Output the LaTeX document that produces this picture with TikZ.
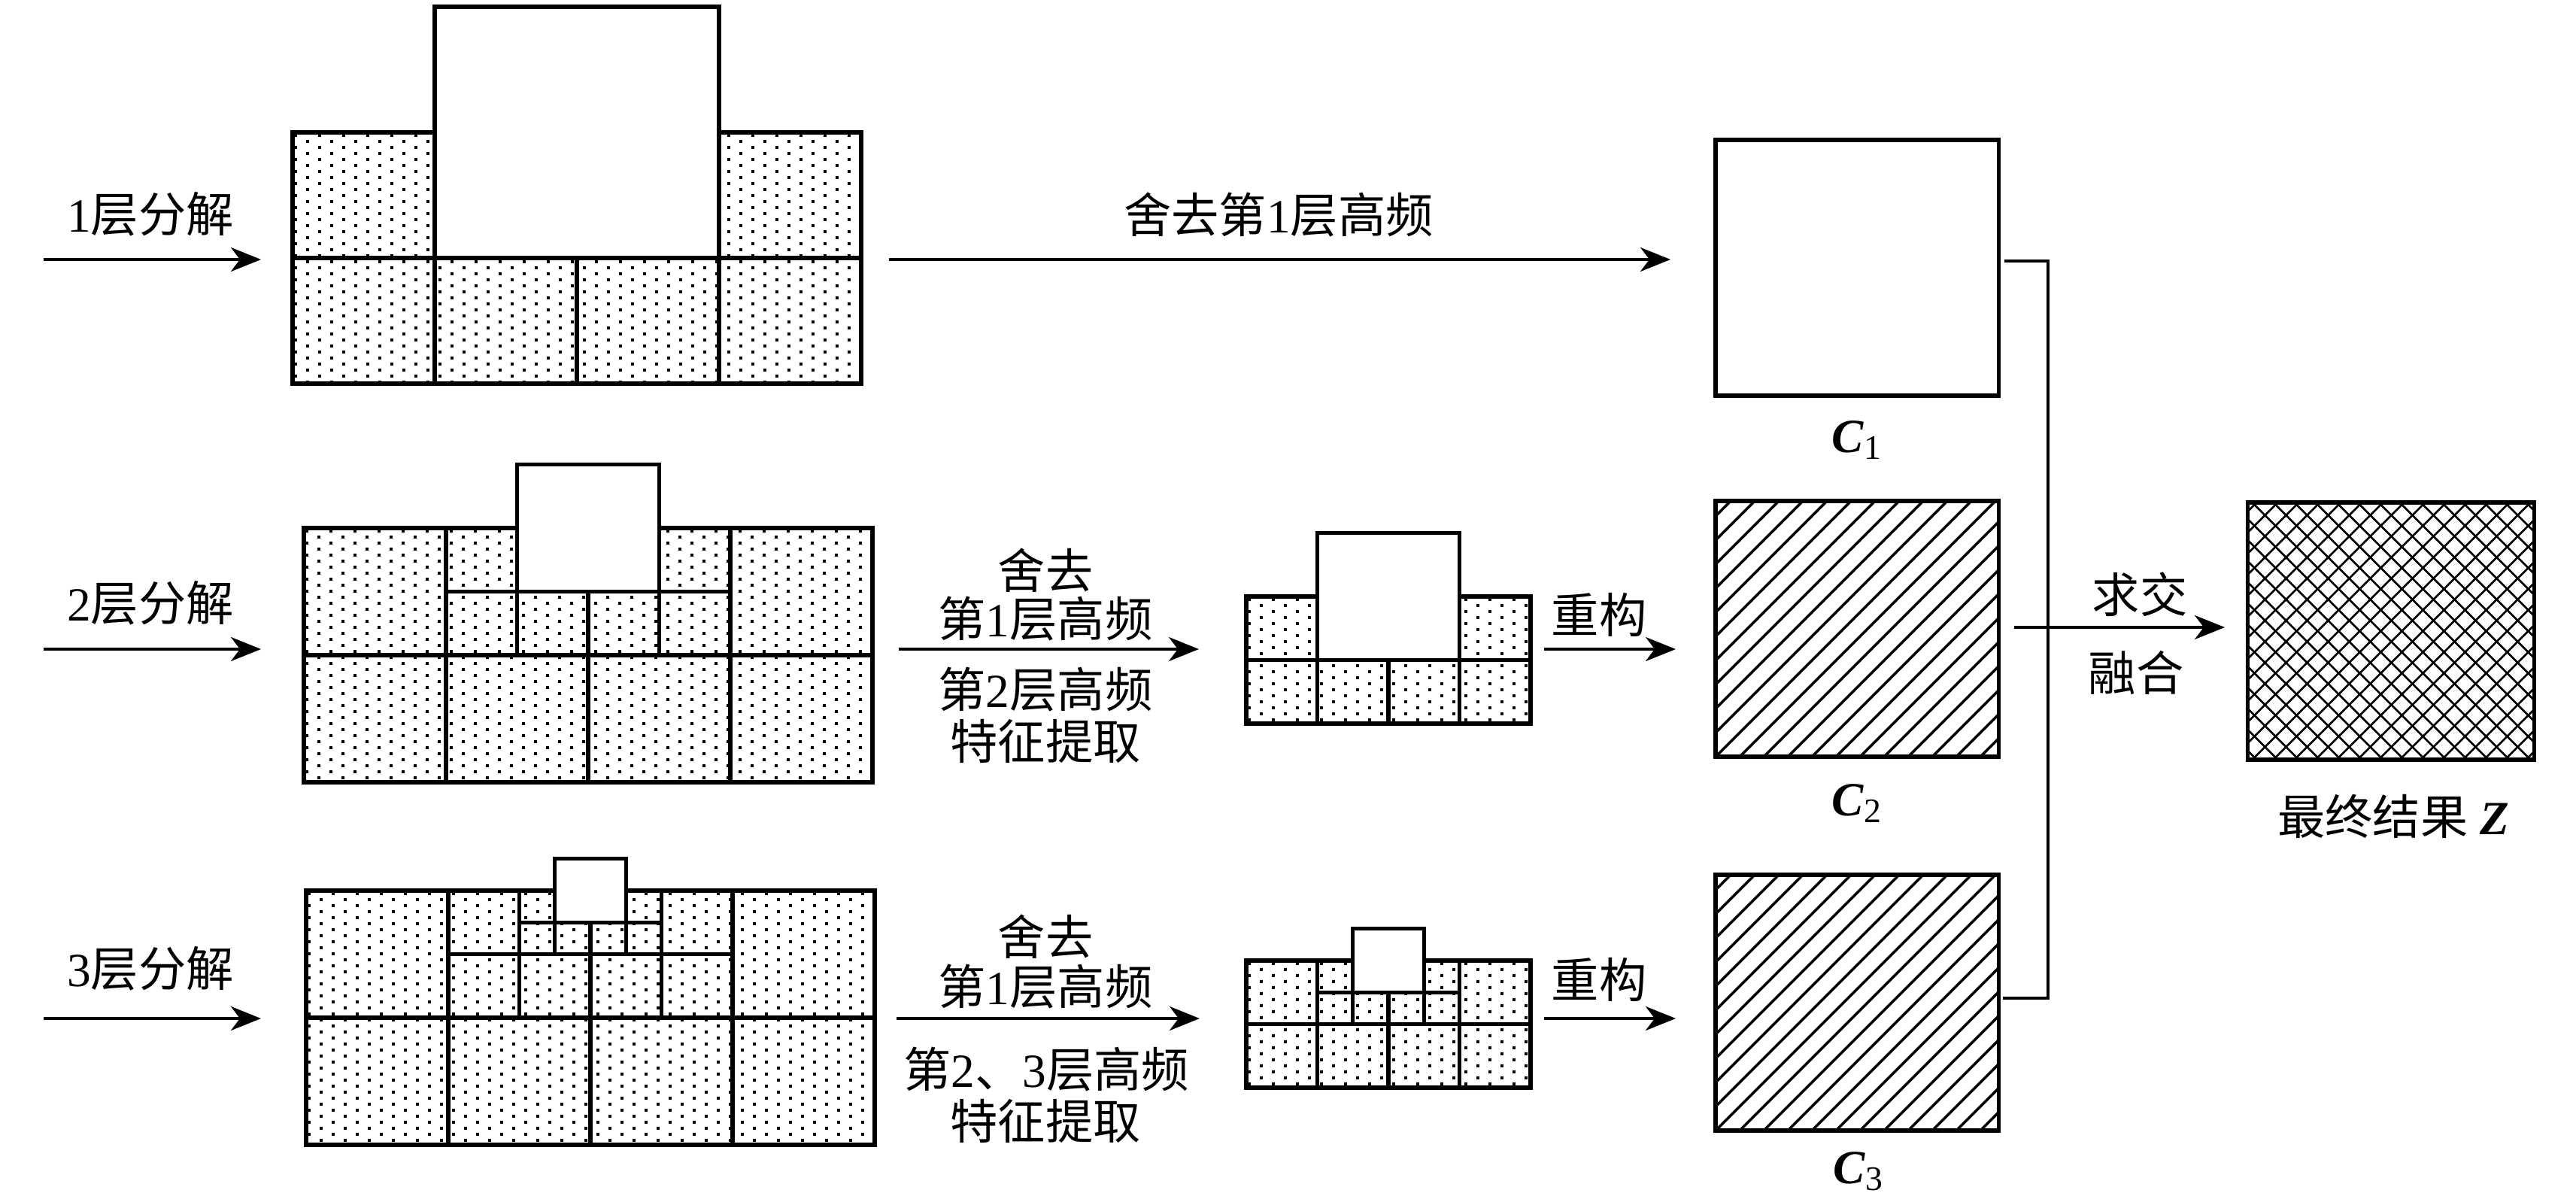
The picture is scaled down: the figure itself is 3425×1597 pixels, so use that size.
\documentclass[tikz,border=0pt]{standalone}
\usepackage{fontspec}
\setmainfont{Liberation Serif}
\newfontfamily\zh{Noto Sans CJK SC}
\usetikzlibrary{arrows.meta,calc}

\tikzset{
  cellbox/.style={draw=black, line width=1.5pt},
  whitebox/.style={draw=black, line width=1.5pt, fill=white},
  dotrow/.style={line width=1.15pt, dash pattern=on 1.15pt off 7.955pt},
  hatchline/.style={line width=1pt},
  crossline/.style={line width=0.75pt},
  cbox/.style={draw=black, line width=1.5pt, inner sep=0pt, outer sep=0pt,
    minimum width=3.76cm, minimum height=3.4cm},
  arr/.style={line width=1.1pt, -{Stealth[length=0.4cm,width=0.32cm,inset=0.12cm]}},
  conn/.style={line width=1pt},
  lbl/.style={font=\fontsize{18}{19}\selectfont, inner sep=0pt, align=center},
}

% dotted field: x0 y0 W H (in px units)
\newcommand\dotfield[4]{%
  \begin{scope}
    \clip (#1,#2) rectangle ++({#3},{#4});
    \pgfmathtruncatemacro\nrows{(#4)/8}
    \foreach \rr in {0,...,\nrows}{
      \pgfmathsetmacro\yy{(#2)+4+8*\rr}
      \pgfmathsetmacro\ph{mod(\rr,2)*16}
      \draw[dotrow] ({(#1)+2-\ph},\yy) -- ++({(#3)+40},0);
    }
  \end{scope}}
\newcommand\sixcells[4]{%
  \foreach \i in {0,1,2,3}{\draw[cellbox] ({(#1)+\i*(#3)},{(#2)+(#4)}) rectangle ++({#3},{#4});}
  \draw[cellbox] ({#1},{#2}) rectangle ++({#3},{#4});
  \draw[cellbox] ({(#1)+3*(#3)},{#2}) rectangle ++({#3},{#4});}
\newcommand\gridA[4]{\sixcells{#1}{#2}{#3}{#4}%
  \draw[whitebox] ({(#1)+(#3)},{(#2)-(#4)}) rectangle ++({2*(#3)},{2*(#4)});}
\newcommand\gridB[4]{\sixcells{#1}{#2}{#3}{#4}\gridA{(#1)+(#3)}{#2}{(#3)/2}{(#4)/2}}
\newcommand\gridC[4]{\sixcells{#1}{#2}{#3}{#4}\gridB{(#1)+(#3)}{#2}{(#3)/2}{(#4)/2}}
\newcommand\decA[4]{\dotfield{#1}{#2}{4*(#3)}{2*(#4)}\gridA{#1}{#2}{#3}{#4}}
\newcommand\decB[4]{\dotfield{#1}{#2}{4*(#3)}{2*(#4)}\gridB{#1}{#2}{#3}{#4}}
\newcommand\decC[4]{\dotfield{#1}{#2}{4*(#3)}{2*(#4)}\gridC{#1}{#2}{#3}{#4}}
\newcommand\sub[1]{\raisebox{-0.3ex}{\fontsize{13}{13}\selectfont #1}}

\begin{document}
\begin{tikzpicture}[x=0.01cm, y=-0.01cm]
\useasboundingbox (0,0) rectangle (3425,1597);

% decomposition blocks
\decA{389}{176}{189}{167}
\decB{404}{702}{189}{169}
\decC{407}{1184}{189}{169}
\decA{1657}{793}{94.5}{84.5}
\decB{1657}{1277}{94.5}{84.5}

% result boxes
\node[cbox] (C1) at (2469,356) {};
\node[cbox] (C2) at (2469,836) {};
\node[cbox] (C3) at (2469,1333) {};
\node[cbox, minimum width=3.81cm, minimum height=3.42cm] (Z) at (3179,839) {};
\foreach \bx in {C2,C3}{
  \begin{scope}
    \clip (\bx.north west) rectangle (\bx.south east);
    \foreach \k in {-12,...,12}
      \draw[hatchline] ($(\bx.south west)+(\k*32,0)$) -- ++(420,-420);
  \end{scope}
  \draw[line width=1.5pt] (\bx.north west) rectangle (\bx.south east);
}
\begin{scope}
  \clip (Z.north west) rectangle (Z.south east);
  \foreach \k in {-14,...,14}{
    \draw[crossline] ($(Z.south west)+(\k*28+6,0)$) -- ++(420,-420);
    \draw[crossline] ($(Z.north west)+(\k*28+6,0)$) -- ++(420,420);
  }
\end{scope}
\draw[line width=1.6pt] (Z.north west) rectangle (Z.south east);

% labels
\node[lbl] (t1) at (200,285) {1{\zh 层分解}};
\node[lbl] (t2) at (200,802) {2{\zh 层分解}};
\node[lbl] (t3) at (200,1288) {3{\zh 层分解}};
\node[lbl] (d1) at (1700,286) {{\zh 舍去第}1{\zh 层高频}};
\node[lbl] (d2a) at (1390,758) {{\zh 舍去}};
\node[lbl] (d2b) at (1390,823) {{\zh 第}1{\zh 层高频}};
\node[lbl] (d2c) at (1390,917) {{\zh 第}2{\zh 层高频}};
\node[lbl] (d2d) at (1390,985) {{\zh 特征提取}};
\node[lbl] (d3a) at (1390,1245) {{\zh 舍去}};
\node[lbl] (d3b) at (1390,1312) {{\zh 第}1{\zh 层高频}};
\node[lbl] (d3c) at (1391,1422) {{\zh 第}2{\zh 、}3{\zh 层高频}};
\node[lbl] (d3d) at (1390,1490) {{\zh 特征提取}};
\node[lbl] (g2) at (2126,817) {{\zh 重构}};
\node[lbl] (g3) at (2126,1302) {{\zh 重构}};
\node[lbl] (f1) at (2845,790) {{\zh 求交}};
\node[lbl] (f2) at (2840,894) {{\zh 融合}};
\node[lbl] (C1l) at (2468,585) {\textbf{\textit{C}}\sub{1}};
\node[lbl] (C2l) at (2468,1068) {\textbf{\textit{C}}\sub{2}};
\node[lbl] (C3l) at (2470,1557) {\textbf{\textit{C}}\sub{3}};
\node[lbl] (Zl) at (3182,1085) {{\zh 最终结果} \textbf{\textit{Z}}};

% arrows
\coordinate (a1s) at (58,345);  \coordinate (a1e) at (347,345);
\coordinate (a2s) at (58,863);  \coordinate (a2e) at (347,863);
\coordinate (a3s) at (58,1354); \coordinate (a3e) at (347,1354);
\draw[arr] (a1s) -- (a1e);
\draw[arr] (a2s) -- (a2e);
\draw[arr] (a3s) -- (a3e);
\coordinate (b1s) at (1182,345); \coordinate (b1e) at (2221,345);
\coordinate (b2s) at (1195,863); \coordinate (b2e) at (1594,863);
\coordinate (b3s) at (1192,1354); \coordinate (b3e) at (1595,1354);
\draw[arr] (b1s) -- (b1e);
\draw[arr] (b2s) -- (b2e);
\draw[arr] (b3s) -- (b3e);
\coordinate (r2s) at (2053,863); \coordinate (r2e) at (2228,863);
\coordinate (r3s) at (2053,1354); \coordinate (r3e) at (2228,1354);
\draw[arr] (r2s) -- (r2e);
\draw[arr] (r3s) -- (r3e);

% fusion
\coordinate (c1o) at (2665,347); \coordinate (bus1) at (2723,347);
\coordinate (bus2) at (2723,1327); \coordinate (c3o) at (2663,1327);
\draw[conn] (c1o) -- (bus1) -- (bus2) -- (c3o);
\coordinate (c2o) at (2678,834); \coordinate (zin) at (2958,834);
\draw[arr] (c2o) -- (zin);
\end{tikzpicture}
\end{document}
